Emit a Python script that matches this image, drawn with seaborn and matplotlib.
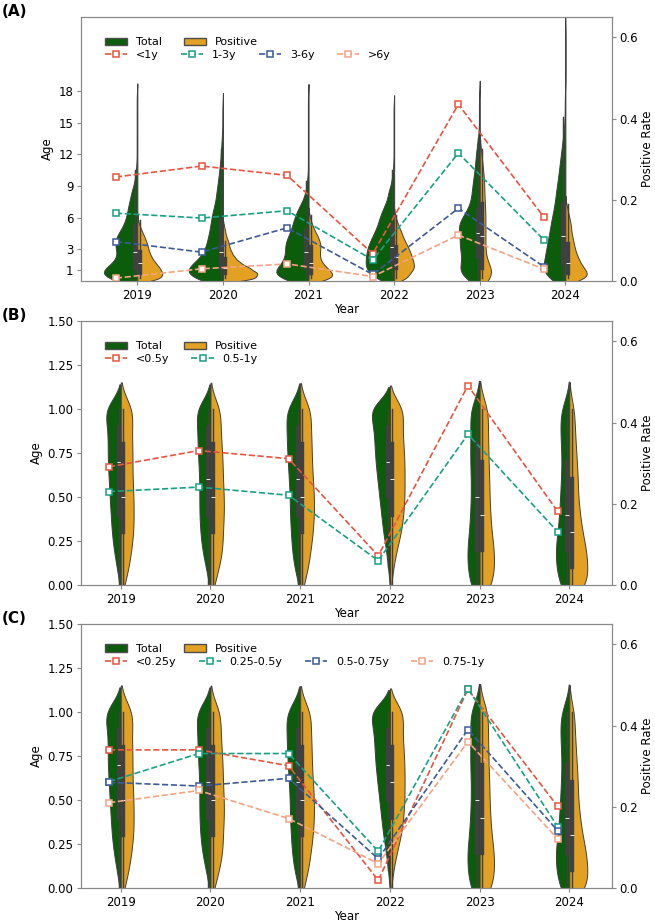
import numpy as np
import pandas as pd
import seaborn as sns
import matplotlib.pyplot as plt
from matplotlib.patches import Patch

years = ["2019", "2020", "2021", "2022", "2023", "2024"]

# panel A: age (years) distribution, given as counts on an age grid
age_grid_a = [0.25, 0.75, 1.25, 1.75, 2.25, 2.75, 3.25, 3.75, 4.25, 4.75, 5.25,
              5.75, 6.25, 6.75, 7.25, 7.75, 8.5, 9.5, 10.5, 11.5, 12.5, 13.5,
              14.5, 15.5, 16.5, 17.5, 25]
total_counts_a = [
    [33, 31, 24, 17, 14, 15, 17, 18, 16, 13, 10, 9, 8, 7, 7, 6, 8, 4, 2, 1, 1, 1, 1, 1, 1, 1, 0],
    [33, 34, 30, 23, 18, 15, 14, 13, 12, 11, 10, 10, 9, 8, 7, 6, 10, 8, 6, 4, 3, 2, 1, 1, 1, 0, 0],
    [29, 28, 23, 19, 17, 17, 18, 17, 15, 13, 12, 11, 10, 8, 6, 4, 4, 2, 1, 1, 1, 1, 1, 1, 1, 1, 0],
    [18, 20, 23, 23, 22, 22, 21, 19, 17, 15, 13, 12, 11, 9, 7, 6, 8, 4, 2, 1, 1, 1, 1, 1, 1, 0, 0],
    [11, 14, 13, 10, 9, 12, 13, 11, 11, 13, 14, 12, 9, 7, 6, 5, 9, 8, 6, 5, 4, 2, 1, 1, 1, 1, 0],
    [19, 19, 18, 17, 16, 15, 15, 14, 13, 12, 12, 11, 10, 9, 9, 8, 14, 12, 10, 8, 6, 4, 2, 1, 1, 1, 1],
]
positive_counts_a = [
    [33, 34, 30, 24, 19, 16, 14, 12, 9, 6, 3, 1, 0, 0, 0, 0, 0, 0, 0, 0, 0, 0, 0, 0, 0, 0, 0],
    [32, 33, 25, 16, 11, 8, 6, 5, 3, 2, 1, 0, 0, 0, 0, 0, 0, 0, 0, 0, 0, 0, 0, 0, 0, 0, 0],
    [25, 24, 18, 13, 11, 11, 12, 11, 9, 6, 4, 2, 1, 0, 0, 0, 0, 0, 0, 0, 0, 0, 0, 0, 0, 0, 0],
    [15, 19, 24, 23, 21, 19, 16, 13, 10, 8, 5, 3, 1, 0, 0, 0, 0, 0, 0, 0, 0, 0, 0, 0, 0, 0, 0],
    [14, 16, 10, 6, 5, 5, 5, 5, 5, 5, 5, 5, 5, 5, 5, 4, 8, 8, 6, 4, 2, 0, 0, 0, 0, 0, 0],
    [21, 20, 16, 13, 11, 9, 8, 7, 6, 5, 5, 4, 3, 2, 1, 0, 0, 0, 0, 0, 0, 0, 0, 0, 0, 0, 0],
]

# panels B and C: infants under one year
age_grid_b = [0.0, 0.1, 0.2, 0.3, 0.4, 0.5, 0.6, 0.7, 0.8, 0.9, 1.0]
total_counts_b = [
    [1, 4, 7, 9, 10, 11, 12, 13, 13, 13, 18],
    [1, 5, 9, 11, 12, 12, 12, 13, 14, 14, 17],
    [1, 6, 8, 9, 10, 10, 11, 12, 13, 13, 15],
    [0, 2, 4, 7, 9, 11, 13, 15, 16, 17, 22],
    [12, 14, 15, 12, 11, 10, 10, 11, 11, 10, 13],
    [12, 16, 17, 14, 12, 11, 10, 9, 10, 11, 11],
]
positive_counts_b = [
    [3, 7, 9, 11, 11, 11, 10, 10, 10, 9, 12],
    [3, 7, 10, 10, 11, 11, 10, 10, 9, 8, 9],
    [3, 7, 9, 11, 12, 12, 11, 10, 10, 9, 10],
    [1, 3, 6, 10, 12, 13, 13, 13, 12, 11, 13],
    [14, 15, 15, 12, 11, 10, 10, 9, 9, 8, 10],
    [18, 17, 16, 12, 10, 8, 8, 7, 6, 5, 5],
]

# positive rate per age group
labels_a = ["<1y", "1-3y", "3-6y", ">6y"]
rates_a = [
    [0.256, 0.283, 0.260, 0.067, 0.435, 0.157],
    [0.167, 0.155, 0.173, 0.052, 0.315, 0.101],
    [0.097, 0.071, 0.131, 0.016, 0.179, 0.035],
    [0.007, 0.030, 0.042, 0.011, 0.113, 0.029],
]
labels_b = ["<0.5y", "0.5-1y"]
rates_b = [
    [0.291, 0.331, 0.311, 0.072, 0.491, 0.181],
    [0.230, 0.241, 0.221, 0.060, 0.371, 0.131],
]
labels_c = ["<0.25y", "0.25-0.5y", "0.5-0.75y", "0.75-1y"]
rates_c = [
    [0.340, 0.340, 0.301, 0.019, 0.489, 0.201],
    [0.262, 0.331, 0.331, 0.090, 0.491, 0.151],
    [0.260, 0.251, 0.270, 0.072, 0.390, 0.141],
    [0.210, 0.240, 0.171, 0.060, 0.360, 0.121],
]

line_colors = ["#e8543f", "#18a085", "#3d5a98", "#f4a384"]
pal = {"Total": "#0b5d0b", "Positive": "#e2a122"}


def make_df(grid, total, positive):
    rows = []
    for i, y in enumerate(years):
        for grp, counts in (("Total", total[i]), ("Positive", positive[i])):
            for a in np.repeat(grid, counts):
                rows.append((y, grp, a))
    return pd.DataFrame(rows, columns=["Year", "Group", "Age"])


df_a = make_df(age_grid_a, total_counts_a, positive_counts_a)
df_b = make_df(age_grid_b, total_counts_b, positive_counts_b)

plt.rcParams["font.family"] = "DejaVu Sans"
fig = plt.figure(figsize=(6.55, 9.24), dpi=100)

# tag, bottom, data, labels, rates, violin width, bw_adjust, line offset, xlim
panels = [
    ("(A)", 0.6959, df_a, labels_a, rates_a, 0.8, 0.6, -0.25, (-0.658, 5.545)),
    ("(B)", 0.3669, df_b, labels_b, rates_b, 0.4, 0.65, -0.13, (-0.443, 5.476)),
    ("(C)", 0.0390, df_b, labels_c, rates_c, 0.4, 0.65, -0.13, (-0.443, 5.476)),
]

for tag, bottom, df, labels, rates, vw, bwa, off, xlim in panels:
    ax = fig.add_axes([0.1237, bottom, 0.8107, 0.2857])
    sns.violinplot(data=df, x="Year", y="Age", hue="Group", order=years,
                   hue_order=["Total", "Positive"], split=True, inner="box",
                   palette=pal, saturation=1, width=vw, bw_adjust=bwa,
                   linewidth=0.7, linecolor="0.25", legend=False, ax=ax)
    ax.set_xlim(*xlim)
    if tag == "(A)":
        ax.set_ylim(0, 25)
        ax.set_yticks([1, 3, 6, 9, 12, 15, 18])
    else:
        ax.set_ylim(0, 1.5)
        ax.set_yticks(np.arange(0, 1.51, 0.25))
        ax.set_yticklabels([f"{v:.2f}" for v in np.arange(0, 1.51, 0.25)])
    ax.set_xlabel("Year", fontsize=8.5, labelpad=1)
    ax.set_ylabel("Age", fontsize=8.5, labelpad=3)

    ax2 = ax.twinx()
    xs = np.arange(len(years)) + off
    handles = []
    for lbl, r, c in zip(labels, rates, line_colors):
        h, = ax2.plot(xs, r, ls="--", lw=1.2, color=c, marker="s", ms=4.5,
                      mfc="white", mec=c, mew=1.1, label=lbl)
        handles.append(h)
    ax2.set_ylim(0, 0.65)
    ax2.set_yticks([0, 0.2, 0.4, 0.6])
    ax2.set_yticklabels(["0.0", "0.2", "0.4", "0.6"])
    ax2.set_ylabel("Positive Rate", fontsize=8.5, labelpad=2)

    for a in (ax, ax2):
        for s in a.spines.values():
            s.set_color("#888888")
        a.tick_params(labelsize=8.5, color="#888888", length=3, pad=2.5)

    patches = [Patch(facecolor=pal["Total"], edgecolor="0.3", label="Total"),
               Patch(facecolor=pal["Positive"], edgecolor="0.3", label="Positive")]
    leg1 = ax2.legend(handles=patches, loc="upper left", ncol=2, frameon=False,
                      fontsize=8, bbox_to_anchor=(0.036, 0.94), borderaxespad=0,
                      handlelength=2.0)
    ax2.add_artist(leg1)
    ax2.legend(handles=handles, loc="upper left", ncol=len(handles), frameon=False,
               fontsize=8, bbox_to_anchor=(0.036, 0.891), borderaxespad=0,
               handlelength=2.0)

    fig.text(0.003, bottom + 0.2857 + 0.0055, tag, fontsize=11, fontweight="bold",
             va="center", ha="left")

fig.savefig("out.png", dpi=100)
